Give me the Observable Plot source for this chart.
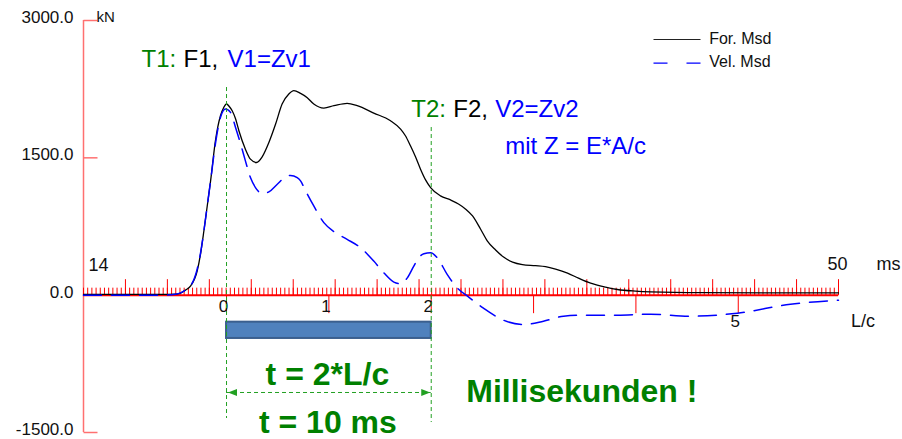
<!DOCTYPE html>
<html>
<head>
<meta charset="utf-8">
<script src="https://cdn.jsdelivr.net/npm/d3@7"></script>
<script src="https://cdn.jsdelivr.net/npm/@observablehq/plot@0.6"></script>
<style>
  body { margin: 0; background: #fff; }
  #chart { position: relative; width: 902px; height: 439px; }
  g[aria-label="legend labels"] text { letter-spacing: 0.8px; }
  g[aria-label="y labels"] text { letter-spacing: 0.8px; }
  g[aria-label="kN label"] text { letter-spacing: 0.3px; }
</style>
</head>
<body>
<div id="chart"></div>
<script>
// ---- Data (time in ms, values in kN) ----
const forceTime = [14.00, 17.67, 18.39, 18.63, 18.86, 19.10, 19.42, 19.58, 19.74, 19.90, 20.06, 20.29, 20.53, 20.68, 20.82, 20.96, 21.09, 21.25, 21.41, 21.72, 21.96, 22.25, 22.52, 22.84, 23.16, 23.47, 23.79, 24.03, 24.35, 24.67, 24.98, 25.46, 25.94, 26.57, 27.05, 27.84, 28.64, 29.12, 29.35, 29.59, 29.83, 30.07, 30.31, 30.55, 31.02, 31.50, 31.88, 32.21, 32.55, 32.93, 33.26, 33.65, 34.03, 34.46, 34.93, 35.55, 36.03, 36.51, 37.08, 37.60, 38.18, 38.89, 39.46, 40.32, 41.04, 43.42, 50.00];
const forceKN = [8, 8, 11, 22, 55, 99, 263, 449, 701, 974, 1248, 1686, 1960, 2047, 2088, 2058, 2015, 1927, 1796, 1595, 1486, 1449, 1511, 1668, 1869, 2088, 2197, 2234, 2204, 2157, 2088, 2044, 2069, 2095, 2069, 1989, 1905, 1814, 1741, 1631, 1511, 1376, 1259, 1175, 1084, 1040, 996, 942, 865, 723, 591, 493, 416, 361, 334, 323, 312, 285, 241, 186, 131, 88, 62, 44, 36, 27, 25];

const velTime = [14.00, 17.67, 18.39, 18.63, 18.86, 19.10, 19.42, 19.58, 19.74, 19.90, 20.06, 20.29, 20.53, 20.77, 21.01, 21.25, 21.49, 21.72, 21.96, 22.20, 22.52, 22.84, 23.24, 23.71, 23.87, 24.19, 24.35, 24.59, 24.98, 25.46, 25.94, 26.57, 27.21, 27.84, 28.32, 28.80, 29.12, 29.44, 29.75, 29.97, 30.23, 30.55, 30.87, 31.34, 31.83, 32.31, 33.07, 34.03, 34.98, 35.93, 36.89, 37.84, 39.46, 41.04, 42.94, 45.18, 47.71, 50.00];
const velKN = [0, 0, 11, 25, 55, 99, 285, 460, 701, 974, 1248, 1653, 1941, 2033, 1996, 1832, 1653, 1467, 1284, 1175, 1109, 1128, 1212, 1303, 1308, 1284, 1248, 1139, 974, 792, 693, 610, 518, 372, 244, 142, 124, 189, 318, 405, 452, 463, 408, 227, 77, -11, -142, -274, -321, -285, -230, -219, -219, -208, -230, -197, -99, -55];

const yTicks = [3000, 1500, 0, -1500];
const yTickLabels = ["3000.0", "1500.0", "0.0", "-1500.0"];
const msMinor = d3.range(0, 181).map(i => 14 + i * 0.2);
const msMajor = d3.range(16, 51, 2);
const lcTicks = [0, 1, 2, 3, 4, 5];
const lcLabels = [0, 1, 2];
const lcFar = [5];
const t0 = 20.82;   // ms at L/c = 0
const lcMs = 4.88;  // ms per L/c
const seriesNames = ["For. Msd", "Vel. Msd"];

const toRows = (time, kn) => time.map((t, i) => ({t, v: kn[i]})).filter(d => d.v !== undefined);
const forceRows = toRows(forceTime, forceKN);
const velRows = toRows(velTime, velKN);

// ---- Styles ----
const green = "#008000", lineGreen = "#22a022", blue = "#0000ff";
const font = "'Liberation Sans', Arial, sans-serif";
const seg = (dx, dy) => ({draw(ctx) { ctx.moveTo(0, 0); ctx.lineTo(dx, dy); }});
const head = dir => ({draw(ctx) { ctx.moveTo(0, 0); ctx.lineTo(-dir * 9, -3.5); ctx.lineTo(-dir * 9, 3.5); ctx.closePath(); }});
const lc = k => t0 + k * lcMs;

const txt = (s, o) => Plot.text([s], {text: d => d, fontFamily: font, ...o});

const chart = Plot.plot({
  width: 902,
  height: 439,
  marginLeft: 83,
  marginRight: 64,
  marginTop: 20,
  marginBottom: 7,
  x: {domain: [14, 50], axis: null},
  y: {domain: [-1500, 3000], axis: null},
  style: {fontFamily: font, fontSize: "17px", background: "#fff", overflow: "visible"},
  marks: [
    // blue bar 0..2 L/c
    Plot.rect([0], {x1: lc(0), x2: lc(2), y1: -295, y2: -473, fill: "#4f81bd", stroke: "#3b5f8e", strokeWidth: 2}),
    // y axis line & ticks
    Plot.ruleX([14], {y1: -1500, y2: 3000, stroke: "#ff7070", strokeWidth: 1.5}),
    Plot.dot(yTicks, {x: 14, y: d => d, symbol: seg(14, 0), fill: "none", stroke: "#ff7070", strokeWidth: 1.5}),
    Plot.text(yTicks, {x: 14, y: d => d, text: (d, i) => yTickLabels[i], textAnchor: "end", dx: -10, dy: -3, fontSize: 17, fill: "#111", ariaLabel: "y labels"}),
    Plot.text(["kN"], {x: 14, y: 3000, text: d => d, textAnchor: "start", dx: 13, dy: -3, fontSize: 15, fill: "#111", ariaLabel: "kN label"}),
    // red time axis
    Plot.ruleY([0], {x1: 14, x2: 50, stroke: "red", strokeWidth: 2}),
    Plot.dot(msMinor, {x: d => d, y: 0, symbol: seg(0, -7.5), fill: "none", stroke: "red", strokeWidth: 1}),
    Plot.dot(msMajor, {x: d => d, y: 0, symbol: seg(0, -16), fill: "none", stroke: "red", strokeWidth: 1}),
    Plot.dot(lcTicks, {x: d => lc(d), y: 0, symbol: seg(0, 18), fill: "none", stroke: "red", strokeWidth: 1}),
    // time labels
    Plot.text([14], {x: d => d, y: 0, text: d => String(d), textAnchor: "start", lineAnchor: "bottom", dx: 5, dy: -24, fontSize: 18, fill: "#111"}),
    Plot.text([50], {x: d => d, y: 0, text: d => String(d), textAnchor: "middle", lineAnchor: "bottom", dx: -1, dy: -24.7, fontSize: 18, fill: "#111"}),
    Plot.text(["ms"], {x: 50, y: 0, text: d => d, textAnchor: "start", lineAnchor: "bottom", dx: 38, dy: -24.7, fontSize: 18, fill: "#111"}),
    // L/c labels
    Plot.text(lcLabels, {x: d => lc(d), y: 0, text: d => String(d), textAnchor: "middle", lineAnchor: "bottom", dx: -3, dy: 17, fontSize: 17, fill: "#111"}),
    Plot.text(lcFar, {x: d => lc(d), y: 0, text: d => String(d), textAnchor: "middle", lineAnchor: "bottom", dx: -3, dy: 32, fontSize: 17, fill: "#111"}),
    Plot.text(["L/c"], {x: 50, y: 0, text: d => d, textAnchor: "start", lineAnchor: "bottom", dx: 12.5, dy: 32.3, fontSize: 18, fill: "#111"}),
    // curves
    Plot.line(forceRows, {x: "t", y: "v", stroke: "#000", strokeWidth: 1.3, curve: "monotone-x"}),
    Plot.line(velRows, {x: "t", y: "v", stroke: blue, strokeWidth: 1.5, strokeDasharray: "18,10", curve: "monotone-x"}),
    // green dashed verticals
    Plot.ruleX([lc(0)], {y1: 2268, y2: -1347, stroke: lineGreen, strokeWidth: 1, strokeDasharray: "4,3"}),
    Plot.ruleX([lc(2)], {y1: 1831, y2: -1391, stroke: lineGreen, strokeWidth: 1, strokeDasharray: "4,3"}),
    // double arrow
    Plot.ruleY([-1063], {x1: lc(0), x2: lc(2), stroke: lineGreen, strokeWidth: 1, strokeDasharray: "4,3"}),
    Plot.dot([lc(0)], {x: d => d, y: -1063, dx: 1.5, symbol: head(-1), fill: lineGreen, stroke: "none"}),
    Plot.dot([lc(2)], {x: d => d, y: -1063, dx: -1, symbol: head(1), fill: lineGreen, stroke: "none"}),
    // T1 annotation
    txt("T1:", {x: lc(0), y: 2490, dx: -85, textAnchor: "start", lineAnchor: "bottom", fontSize: 24, fill: green}),
    txt("F1,", {x: lc(0), y: 2490, dx: -43, textAnchor: "start", lineAnchor: "bottom", fontSize: 24, fill: "#000"}),
    txt("V1=Zv1", {x: lc(0), y: 2490, dx: 1, textAnchor: "start", lineAnchor: "bottom", fontSize: 24, fill: blue}),
    // T2 annotation
    txt("T2:", {x: lc(2), y: 1951, dx: -20, textAnchor: "start", lineAnchor: "bottom", fontSize: 24, fill: green}),
    txt("F2,", {x: lc(2), y: 1951, dx: 22, textAnchor: "start", lineAnchor: "bottom", fontSize: 24, fill: "#000"}),
    txt("V2=Zv2", {x: lc(2), y: 1951, dx: 64, textAnchor: "start", lineAnchor: "bottom", fontSize: 24, fill: blue}),
    txt("mit Z = E*A/c", {x: lc(2), y: 1537, dx: 74, textAnchor: "start", lineAnchor: "bottom", fontSize: 24, fill: blue}),
    // bold green notes
    txt("t = 2*L/c", {x: lc(1), y: -985, dx: -1.5, textAnchor: "middle", lineAnchor: "bottom", fontSize: 32, fontWeight: "bold", fill: green}),
    txt("t = 10 ms", {x: lc(1), y: -1509, dx: -1, textAnchor: "middle", lineAnchor: "bottom", fontSize: 32, fontWeight: "bold", fill: green}),
    txt("Millisekunden !", {x: lc(2), y: -1172, dx: 35, textAnchor: "start", lineAnchor: "bottom", fontSize: 32, fontWeight: "bold", fill: green}),
    // legend
    Plot.dot([0], {frameAnchor: "top-left", dx: 570, dy: 19, symbol: seg(47, 0), fill: "none", stroke: "#222", strokeWidth: 1}),
    Plot.dot([0], {frameAnchor: "top-left", dx: 570, dy: 42.7, symbol: seg(47, 0), fill: "none", stroke: blue, strokeWidth: 1.2, strokeDasharray: "14,19"}),
    txt(seriesNames[0], {frameAnchor: "top-left", dx: 625.7, dy: 23, textAnchor: "start", lineAnchor: "bottom", fontSize: 16, fill: "#111", ariaLabel: "legend labels"}),
    txt(seriesNames[1], {frameAnchor: "top-left", dx: 625.7, dy: 46.7, textAnchor: "start", lineAnchor: "bottom", fontSize: 16, fill: "#111", ariaLabel: "legend labels"})
  ]
});
document.getElementById("chart").appendChild(chart);
</script>
</body>
</html>
